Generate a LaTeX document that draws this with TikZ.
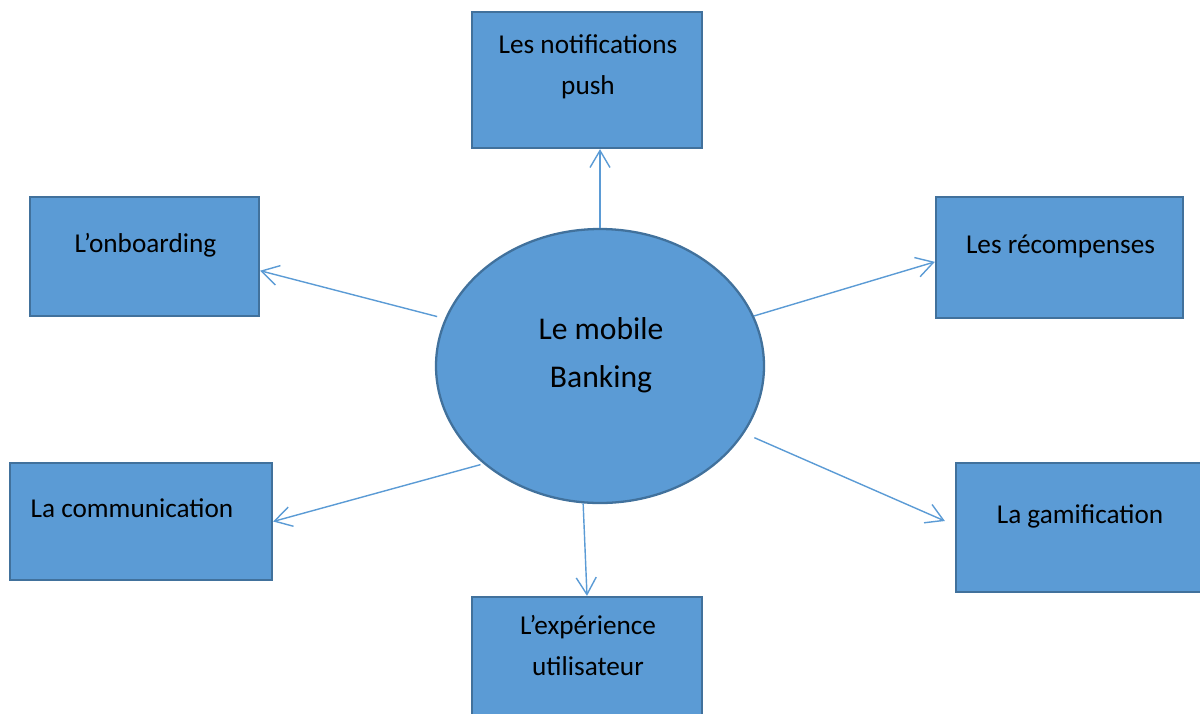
\documentclass[tikz,border=0pt]{standalone}
\usepackage{fontspec}
\setmainfont{Carlito}
\usetikzlibrary{shapes.geometric,arrows.meta}
\definecolor{boxfill}{HTML}{5B9BD5}
\definecolor{boxline}{HTML}{41719C}
\tikzset{
	box/.style={rectangle, draw=boxline, fill=boxfill, line width=1.3pt, inner sep=0pt},
	boxtext/.style={anchor=base, align=center, font=\fontsize{15.5}{23.3}\selectfont},
	mbshape/.style={ellipse, draw=boxline, fill=boxfill, line width=1.3pt, inner sep=0pt},
	link/.style={draw=boxfill, line width=0.8pt, -{Straight Barb[length=3.4mm, width=4mm]}}
}

\begin{document}
\begin{tikzpicture}
			%%%%% START %%%%%
			
			\useasboundingbox (0, 0) rectangle (24, -14.26);
			
			\node[mbshape, minimum width=6.56cm, minimum height=5.48cm] (mb) at (12, -7.32) {};
			\node[boxtext, font=\fontsize{18}{27.3}\selectfont] (mbtext) at (12.02, -7.74) {Le mobile\\Banking};
			
			\node[box, minimum width=4.6cm, minimum height=2.72cm] (push) at (11.74, -1.6) {};
			\node[boxtext] (pushtext) at (11.76, -1.88) {Les notifications\\push};
			
			\node[box, minimum width=4.58cm, minimum height=2.38cm] (onb) at (2.89, -5.13) {};
			\node[boxtext] (onbtext) at (2.91, -5.04) {L’onboarding};
			
			\node[box, minimum width=4.94cm, minimum height=2.42cm] (rec) at (21.19, -5.15) {};
			\node[boxtext] (rectext) at (21.21, -5.06) {Les récompenses};
			
			\node[box, minimum width=5.24cm, minimum height=2.34cm] (com) at (2.82, -10.43) {};
			\node[boxtext] (comtext) at (2.64, -10.34) {La communication};
			
			\node[box, minimum width=4.92cm, minimum height=2.58cm] (gam) at (21.58, -10.55) {};
			\node[boxtext] (gamtext) at (21.6, -10.46) {La gamification};
			
			\node[box, minimum width=4.6cm, minimum height=2.72cm] (exp) at (11.74, -13.3) {};
			\node[boxtext] (exptext) at (11.76, -13.5) {L’expérience\\utilisateur};
			
			\coordinate (gamtip) at ([xshift=-0.2cm, yshift=0.13cm]gam.west);
			
			\draw[link] (mb.north) -- (mb.north |- push.south);
			\draw[link, shorten <=0.16cm] (mb.163.5) -- (onb.-7.7);
			\draw[link] (mb.18.1) -- (rec.182.1);
			\draw[link, shorten <=0.06cm] (mb.220.7) -- (com.east);
			\draw[link, shorten <=0.22cm] (mb.-25.35) -- (gamtip);
			\draw[link] (mb.263.75) -- (exp.north);
			
			%%%%% END %%%%%
\end{tikzpicture}
\end{document}
